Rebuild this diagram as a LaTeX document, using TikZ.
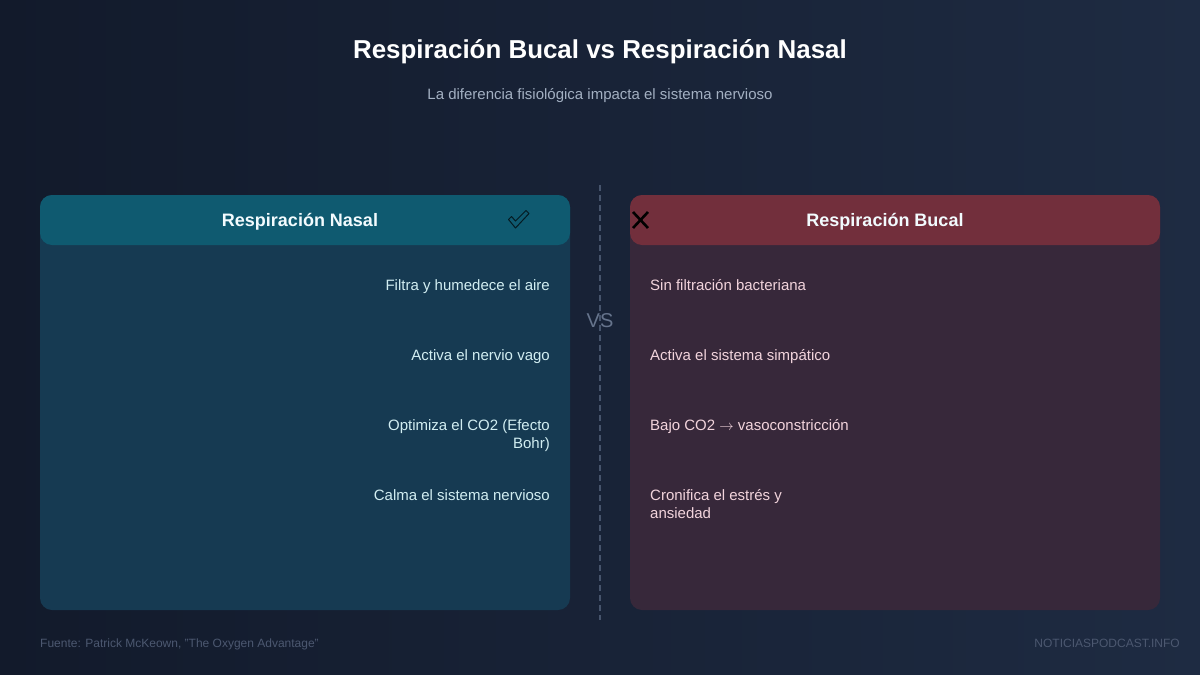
\documentclass[tikz,border=0pt]{standalone}
\usepackage{fontspec}
\setmainfont{Liberation Sans}
\definecolor{bgA}{HTML}{121A2B}
\definecolor{bgB}{HTML}{1E2B42}
\definecolor{nasalHead}{HTML}{0F5A70}
\definecolor{nasalBody}{HTML}{163A52}
\definecolor{bucalHead}{HTML}{722F3C}
\definecolor{bucalBody}{HTML}{37283A}
\definecolor{nasalText}{HTML}{D2EEF2}
\definecolor{bucalText}{HTML}{F2D4DC}
\definecolor{subText}{HTML}{A3B0C2}
\definecolor{footText}{HTML}{4C5870}
\definecolor{vsText}{HTML}{66748C}
\definecolor{dashCol}{HTML}{46546C}
\tikzset{
  titlebox/.style={font=\bfseries\fontsize{25.9}{30}\selectfont, text=white, inner sep=0},
  subbox/.style={font=\fontsize{15}{18}\selectfont, text=subText, inner sep=0},
  headtext/.style={font=\bfseries\fontsize{18}{21}\selectfont, text=white!95!cyan, inner sep=0},
  nasalitem/.style={font=\fontsize{15}{18}\selectfont, text=nasalText, inner sep=0, align=right, anchor=base east},
  bucalitem/.style={font=\fontsize{15}{18}\selectfont, text=bucalText, inner sep=0, align=left, anchor=base west},
  foot/.style={font=\fontsize{12}{14}\selectfont, text=footText, inner sep=0},
}
\begin{document}
\begin{tikzpicture}[x=1pt,y=1pt]
\useasboundingbox (0,0) rectangle (1200,-675);
\shade[shading=axis, shading angle=-60, left color=bgA, right color=bgB] (0,0) rectangle (1200,-675);
% panels
\fill[nasalBody, rounded corners=12pt] (40,-195) rectangle (570,-610);
\fill[nasalHead, rounded corners=12pt] (40,-195) rectangle (570,-245);
\fill[bucalBody, rounded corners=12pt] (630,-195) rectangle (1160,-610);
\fill[bucalHead, rounded corners=12pt] (630,-195) rectangle (1160,-245);
% divider
\coordinate (divtop) at (600,-185);
\coordinate (divbot) at (600,-620);
\draw[dashCol, line width=1.2pt, dash pattern=on 6pt off 4pt] (divtop) -- (divbot);
\node[font=\fontsize{20}{24}\selectfont, text=vsText, inner sep=0] (vs) at (600,-321) {VS};
% titles
\node[titlebox] (title) at (600,-52) {Respiración Bucal vs Respiración Nasal};
\node[subbox] (sub) at (600,-96) {La diferencia fisiológica impacta el sistema nervioso};
% headers
\node[headtext] (hn) at (300,-222) {Respiración Nasal};
\node[headtext] (hb) at (885,-222) {Respiración Bucal};
% check mark
\draw[black!70!nasalHead, line width=1pt, line join=round] (508.5,-219.5) -- (511.5,-216.5) -- (515.5,-221) -- (526,-210.5) -- (529,-213.5) -- (515.5,-228) -- cycle;
% cross
\draw[black, line width=2.6pt] (633,-212) -- (648,-228) (648,-212) -- (633,-228);
% items
\node[nasalitem] (n1) at (550,-290) {Filtra y humedece el aire};
\node[nasalitem] (n2) at (550,-360) {Activa el nervio vago};
\node[nasalitem] (n3) at (550,-448) {Optimiza el CO2 (Efecto\\Bohr)};
\node[nasalitem] (n4) at (550,-500) {Calma el sistema nervioso};
\node[bucalitem] (b1) at (650,-290) {Sin filtración bacteriana};
\node[bucalitem] (b2) at (650,-360) {Activa el sistema simpático};
\node[bucalitem] (b3) at (650,-430) {Bajo CO2 $\rightarrow$ vasoconstricción};
\node[bucalitem] (b4) at (650,-518) {Cronifica el estrés y\\ansiedad};
% footer
\node[foot, anchor=base west] (src) at (40,-647) {Fuente: Patrick McKeown, "The Oxygen Advantage"};
\node[foot, anchor=base east] (site) at (1180,-647) {NOTICIASPODCAST.INFO};
\end{tikzpicture}
\end{document}
